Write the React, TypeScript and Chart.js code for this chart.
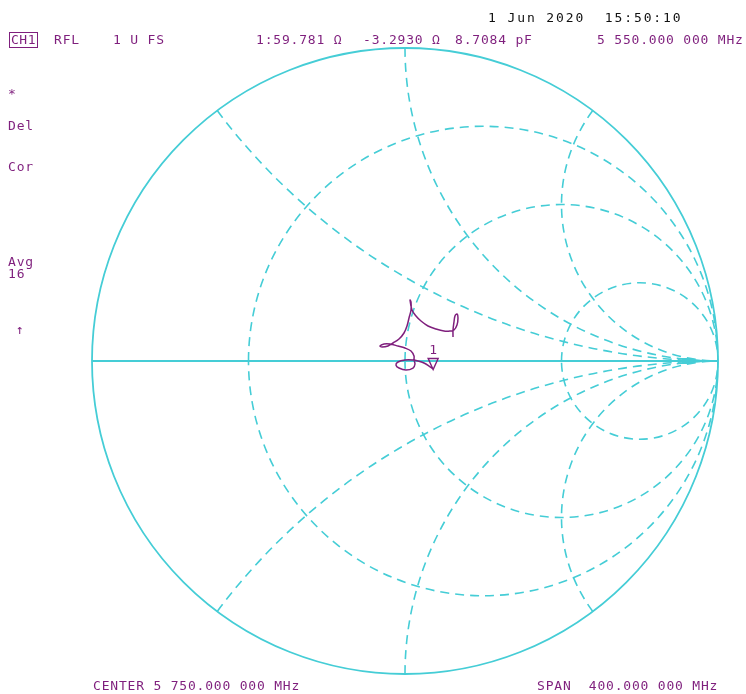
import React, { useEffect, useRef } from "react";
import { Chart, registerables } from "chart.js";

Chart.register(...registerables);

// ---- Smith chart graticule values (normalised) ----
const resistanceCircles = [1 / 3, 1, 3];
const reactanceArcs = [0.5, 1, 2, -0.5, -1, -2];

const traceRe = [
  0.0895, 0.0767, 0.0607, 0.0415, 0.0256, 0.0, -0.0224, -0.0288, -0.0192, 0.0032,
  0.0256, 0.0319, 0.0288, 0.0288, 0.0192, 0.0, -0.0224, -0.0479, -0.0671, -0.0799,
  -0.0735, -0.0543, -0.0383, -0.0192, -0.0032, 0.0064, 0.0128, 0.0192, 0.0192, 0.016,
  0.0224, 0.0351, 0.0511, 0.0735, 0.099, 0.1246, 0.1438, 0.1565, 0.1661, 0.1693,
  0.1661, 0.1597, 0.1565, 0.1534, 0.1534,
];
const traceIm = [
  -0.0256, -0.016, -0.0064, 0.0, 0.0032, 0.0032, -0.0032, -0.0128, -0.0224, -0.0288,
  -0.0224, -0.0096, 0.0032, 0.016, 0.0319, 0.0415, 0.0479, 0.0543, 0.0543, 0.0479,
  0.0447, 0.0479, 0.0575, 0.0703, 0.0895, 0.1118, 0.1374, 0.1629, 0.1885, 0.1949,
  0.1629, 0.1438, 0.1278, 0.1118, 0.1022, 0.0958, 0.0958, 0.099, 0.115, 0.1374,
  0.1502, 0.1438, 0.1246, 0.099, 0.0767,
];

// Marker 1: 59.781 - j3.2930 ohm at 5.55 GHz (Gamma)
const markerRe = [0.0899];
const markerIm = [-0.0273];
const markerLabels = ["1"];

// ---- Annotation texts ----
const dateText = "1 Jun 2020  15:50:10";
const channelText = "CH1";
const headerTexts = [
  { text: "RFL", x: 54 },
  { text: "1 U FS", x: 113 },
  { text: "1:59.781 \u03a9", x: 256 },
  { text: "-3.2930 \u03a9", x: 363 },
  { text: "8.7084 pF", x: 455 },
  { text: "5 550.000 000 MHz", x: 597 },
];
const sideTexts = [
  { text: "*", y: 94 },
  { text: "Del", y: 126 },
  { text: "Cor", y: 167 },
  { text: "Avg", y: 262 },
  { text: "16", y: 274 },
];
const centerText = "CENTER 5 750.000 000 MHz";
const spanText = "SPAN  400.000 000 MHz";

const GRID = "#45cdd6";
const PURPLE = "#7f1f7d";

const smithGrid = {
  id: "smithGrid",
  beforeDatasetsDraw(chart: any) {
    const { ctx } = chart;
    const xs = chart.scales.x;
    const ys = chart.scales.y;
    const px = (v: number) => xs.getPixelForValue(v);
    const py = (v: number) => ys.getPixelForValue(v);
    const cx = px(0);
    const cy = py(0);
    const R = px(1) - px(0);
    ctx.save();
    ctx.strokeStyle = GRID;
    ctx.lineWidth = 1.8;
    ctx.beginPath();
    ctx.arc(cx, cy, R, 0, Math.PI * 2);
    ctx.stroke();
    ctx.beginPath();
    ctx.moveTo(px(-1), cy);
    ctx.lineTo(px(1), cy);
    ctx.stroke();

    ctx.beginPath();
    ctx.arc(cx, cy, R + 0.5, 0, Math.PI * 2);
    ctx.clip();
    ctx.setLineDash([9, 6]);
    ctx.lineWidth = 1.6;
    for (const r of resistanceCircles) {
      const c = r / (r + 1);
      const rad = 1 / (r + 1);
      ctx.beginPath();
      ctx.arc(px(c), cy, px(c + rad) - px(c), Math.PI, Math.PI * 3);
      ctx.stroke();
    }
    for (const xv of reactanceArcs) {
      const ccx = px(1);
      const ccy = py(1 / xv);
      const rad = R / Math.abs(xv);
      const rimRe = (xv * xv - 1) / (xv * xv + 1);
      const rimIm = (2 * xv) / (xv * xv + 1);
      const a1 = Math.atan2(py(rimIm) - ccy, px(rimRe) - ccx);
      ctx.beginPath();
      if (xv > 0) ctx.arc(ccx, ccy, rad, a1, Math.PI / 2, true);
      else ctx.arc(ccx, ccy, rad, a1, -Math.PI / 2, false);
      ctx.stroke();
    }
    ctx.setLineDash([]);
    ctx.fillStyle = GRID;
    ctx.fillRect(px(0.885), cy - 3, 11, 6);
    ctx.restore();
  },
  afterDatasetsDraw(chart: any) {
    const { ctx } = chart;
    const xs = chart.scales.x;
    const ys = chart.scales.y;
    ctx.save();
    ctx.strokeStyle = PURPLE;
    ctx.fillStyle = PURPLE;
    ctx.lineWidth = 1.4;
    for (let i = 0; i < markerRe.length; i++) {
      const mx = xs.getPixelForValue(markerRe[i]);
      const my = ys.getPixelForValue(markerIm[i]);
      ctx.beginPath();
      ctx.moveTo(mx, my);
      ctx.lineTo(mx - 5, my - 11);
      ctx.lineTo(mx + 5, my - 11);
      ctx.closePath();
      ctx.stroke();
      ctx.font = "13px 'DejaVu Sans Mono'";
      ctx.textAlign = "center";
      ctx.textBaseline = "alphabetic";
      ctx.fillText(markerLabels[i], mx, my - 16);
    }
    ctx.restore();
  },
};

const baseText: React.CSSProperties = {
  position: "absolute",
  fontFamily: "'DejaVu Sans Mono', monospace",
  fontSize: "13px",
  lineHeight: "14px",
  letterSpacing: "0.8px",
  color: PURPLE,
  whiteSpace: "pre",
};

export default function App() {
  const canvasRef = useRef<HTMLCanvasElement | null>(null);

  useEffect(() => {
    const canvas = canvasRef.current;
    if (!canvas) return;
    const chart = new Chart(canvas, {
      type: "scatter",
      data: {
        datasets: [
          {
            label: "S11",
            data: traceRe.map((re, i) => ({ x: re, y: traceIm[i] })),
            showLine: true,
            borderColor: PURPLE,
            borderWidth: 1.5,
            pointRadius: 0,
            tension: 0.35,
            fill: false,
          },
        ],
      },
      options: {
        animation: false,
        responsive: false,
        events: [],
        layout: { padding: { left: 92, right: 28, top: 48, bottom: 20 } },
        scales: {
          x: { type: "linear", min: -1, max: 1, display: false },
          y: { type: "linear", min: -1, max: 1, display: false },
        },
        plugins: {
          legend: { display: false },
          tooltip: { enabled: false },
          title: { display: false },
        },
      },
      plugins: [smithGrid],
    });
    return () => chart.destroy();
  }, []);

  return (
    <div
      style={{
        position: "absolute",
        left: 0,
        top: 0,
        width: 746,
        height: 694,
        background: "#ffffff",
        overflow: "hidden",
      }}
    >
      <canvas
        ref={canvasRef}
        width={746}
        height={694}
        style={{ position: "absolute", left: 0, top: 0, width: 746, height: 694 }}
      />
      <div style={{ ...baseText, left: 488, top: 11, color: "#111111", letterSpacing: "1.9px" }}>
        {dateText}
      </div>
      <div
        style={{
          ...baseText,
          left: 9,
          top: 32,
          border: `1.5px solid ${PURPLE}`,
          padding: "0px 1px",
          letterSpacing: "0.5px",
        }}
      >
        {channelText}
      </div>
      {headerTexts.map((t) => (
        <div key={t.text} style={{ ...baseText, left: t.x, top: 33 }}>
          {t.text}
        </div>
      ))}
      {sideTexts.map((t) => (
        <div key={t.text} style={{ ...baseText, left: 8, top: t.y - 7 }}>
          {t.text}
        </div>
      ))}
      <div style={{ ...baseText, left: 16, top: 323 }}>{"\u2191"}</div>
      <div style={{ ...baseText, left: 93, top: 679 }}>{centerText}</div>
      <div style={{ ...baseText, left: 537, top: 679 }}>{spanText}</div>
    </div>
  );
}
